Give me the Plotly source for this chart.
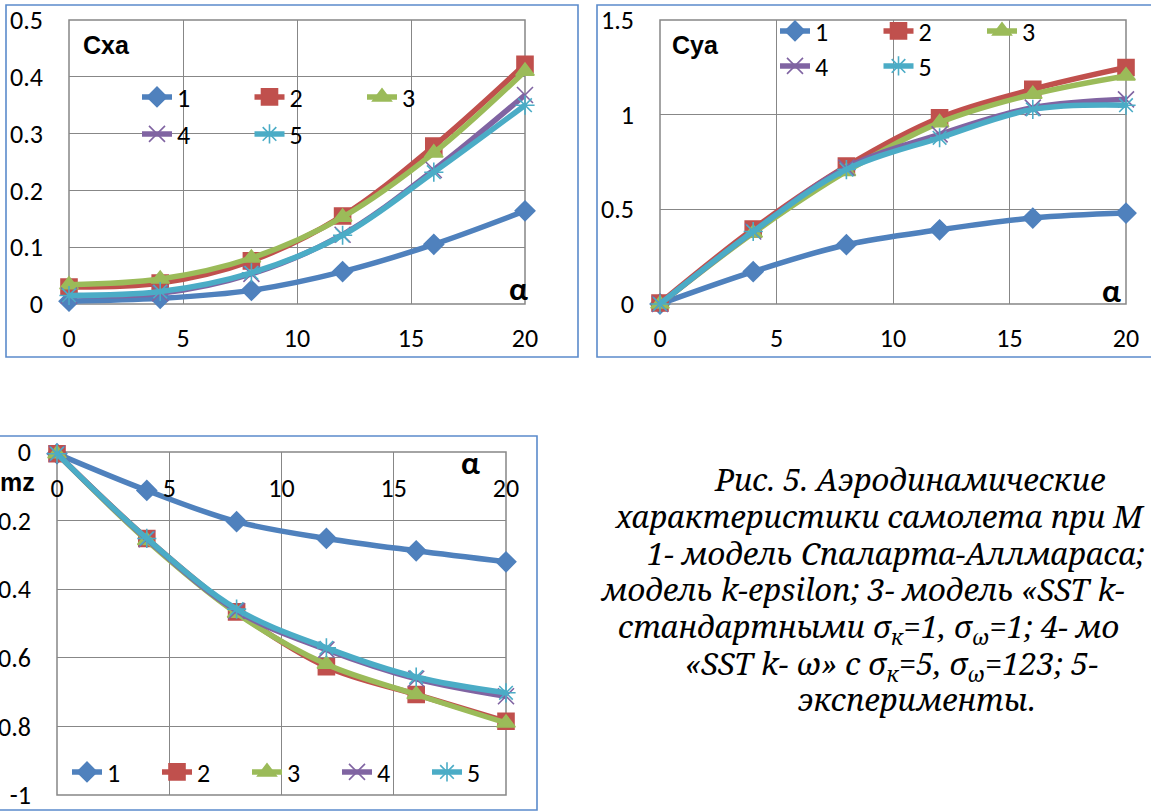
import plotly.graph_objects as go

W, H = 1151, 812

# ---------------- data ----------------
alpha = [0, 4, 8, 12, 16, 20]
series_names = ["1", "2", "3", "4", "5"]

cxa_1 = [0.005, 0.010, 0.024, 0.057, 0.105, 0.164]
cxa_2 = [0.030, 0.037, 0.076, 0.155, 0.278, 0.422]
cxa_3 = [0.034, 0.044, 0.081, 0.153, 0.266, 0.410]
cxa_4 = [0.015, 0.019, 0.053, 0.122, 0.236, 0.368]
cxa_5 = [0.015, 0.022, 0.055, 0.121, 0.232, 0.350]

cya_1 = [0.000, 0.171, 0.313, 0.392, 0.454, 0.480]
cya_2 = [0.005, 0.396, 0.728, 0.984, 1.134, 1.249]
cya_3 = [0.000, 0.375, 0.700, 0.958, 1.108, 1.205]
cya_4 = [0.000, 0.383, 0.720, 0.896, 1.037, 1.081]
cya_5 = [0.000, 0.383, 0.710, 0.878, 1.028, 1.050]

mz_1 = [-0.005, -0.112, -0.203, -0.252, -0.288, -0.320]
mz_2 = [-0.005, -0.252, -0.466, -0.626, -0.707, -0.785]
mz_3 = [-0.005, -0.258, -0.470, -0.619, -0.707, -0.790]
mz_4 = [-0.005, -0.254, -0.463, -0.576, -0.661, -0.712]
mz_5 = [-0.005, -0.252, -0.458, -0.571, -0.656, -0.702]

x_ticks = [0, 5, 10, 15, 20]
cxa_ticks = [0, 0.1, 0.2, 0.3, 0.4, 0.5]
cya_ticks = [0, 0.5, 1, 1.5]
mz_tickvals = [0, -0.2, -0.4, -0.6, -0.8, -1]
mz_ticktext = ["0", "-0.2", "-0.4", "-0.6", "-0.8", "-1"]

caption_lines = [
    "Рис. 5. Аэродинамические",
    "характеристики самолета при М",
    "1- модель Спаларта-Аллмараса;",
    "модель k-epsilon; 3- модель «SST k-",
    "стандартными σ<sub>к</sub>=1, σ<sub>ω</sub>=1; 4- мо",
    "«SST k- ω» с σ<sub>к</sub>=5, σ<sub>ω</sub>=123; 5-",
    "эксперименты.",
]

# ---------------- styles ----------------
colors = ["#4F81BD", "#C0504D", "#9BBB59", "#8064A2", "#4BACC6"]
symbols = ["diamond", "square", "triangle-up", "x-thin-open", "asterisk-open"]
msizes = [15, 16, 16, 16, 16]
FONT = "Calibri, Carlito, Lato, sans-serif"
BOLDFONT = "Arial, Liberation Sans, sans-serif"
SERIF = "Noto Serif, Liberation Serif, serif"
GRID = "#878787"
FRAME = "#5B8BCB"


def fx(p):
    return p / W


def fy(p):
    return 1 - p / H


fig = go.Figure()

panels = [
    ([cxa_1, cxa_2, cxa_3, cxa_4, cxa_5], "x", "y", ["legend"] * 3 + ["legend2"] * 2),
    ([cya_1, cya_2, cya_3, cya_4, cya_5], "x2", "y2", ["legend3"] * 3 + ["legend4"] * 2),
    ([mz_1, mz_2, mz_3, mz_4, mz_5], "x3", "y3", ["legend5"] * 5),
]

for data, xa, ya, legs in panels:
    for i, vals in enumerate(data):
        fig.add_trace(go.Scatter(
            x=alpha, y=vals, name=series_names[i], mode="lines+markers",
            xaxis=xa, yaxis=ya, legend=legs[i], cliponaxis=False,
            line=dict(color=colors[i], width=5.5, shape="spline", smoothing=1),
            marker=dict(symbol=symbols[i], size=msizes[i], color=colors[i],
                        line=dict(color=colors[i], width=1.6)),
        ))

tickfont = dict(family=FONT, size=26, color="black")

common_x = dict(range=[0, 20], tickvals=x_ticks, showgrid=True, gridcolor=GRID,
                gridwidth=1.3, zeroline=False, showline=False, ticks="",
                tickfont=tickfont, automargin=False)
common_y = dict(showgrid=True, gridcolor=GRID, gridwidth=1.3, zeroline=False,
                showline=False, ticks="", tickfont=tickfont, ticklabelstandoff=25,
                automargin=False)

fig.update_layout(
    width=W, height=H,
    margin=dict(l=0, r=0, t=0, b=0, autoexpand=False),
    paper_bgcolor="white", plot_bgcolor="white",
    showlegend=True,
    xaxis=dict(domain=[fx(69), fx(525)], anchor="y", ticklabelstandoff=16, **common_x),
    yaxis=dict(domain=[fy(304), fy(20)], anchor="x", range=[0, 0.5],
               tickvals=cxa_ticks, **common_y),
    xaxis2=dict(domain=[fx(660), fx(1126)], anchor="y2", ticklabelstandoff=16, **common_x),
    yaxis2=dict(domain=[fy(304), fy(20)], anchor="x2", range=[0, 1.5],
                tickvals=cya_ticks, **common_y),
    xaxis3=dict(domain=[fx(57), fx(506)], anchor="free", position=fy(470),
                side="bottom", **common_x),
    yaxis3=dict(domain=[fy(795), fy(452)], anchor="x3", range=[-1, 0],
                tickvals=mz_tickvals, ticktext=mz_ticktext, **common_y),
)

legfont = dict(family=FONT, size=26, color="black")


def leg(xp, yp, ew):
    return dict(x=fx(xp), y=fy(yp), xanchor="left", yanchor="middle",
                orientation="h", entrywidth=ew, entrywidthmode="pixels",
                bgcolor="rgba(0,0,0,0)", font=legfont, itemwidth=30,
                tracegroupgap=0)


fig.update_layout(
    legend=leg(137, 97, 67.5),
    legend2=leg(137, 134, 67.5),
    legend3=leg(775, 31, 58.5),
    legend4=leg(775, 66, 58.5),
    legend5=leg(67, 772, 45),
)

# frames (chart areas) and plot-area borders
shapes = [
    dict(type="rect", xref="paper", yref="paper", x0=fx(6), x1=fx(578),
         y0=fy(357), y1=fy(5), line=dict(color=FRAME, width=1.6)),
    dict(type="rect", xref="paper", yref="paper", x0=fx(597), x1=fx(1165),
         y0=fy(357), y1=fy(5), line=dict(color=FRAME, width=1.6)),
    dict(type="rect", xref="paper", yref="paper", x0=fx(-10), x1=fx(537),
         y0=fy(810), y1=fy(436), line=dict(color=FRAME, width=1.6)),
]
for xa, ya in [("x", "y"), ("x2", "y2"), ("x3", "y3")]:
    shapes.append(dict(type="rect", xref=xa + " domain", yref=ya + " domain",
                       x0=0, x1=1, y0=0, y1=1, layer="below",
                       line=dict(color=GRID, width=1.5)))
fig.update_layout(shapes=shapes)

ann = []
boldfont = dict(family=BOLDFONT, size=25, color="black", weight="bold")
alphafont = dict(family=FONT, size=32, color="black", weight="bold")
ann.append(dict(text="Cxa", x=fx(81), y=fy(45), xref="paper", yref="paper",
                xanchor="left", yanchor="middle", showarrow=False, font=boldfont))
ann.append(dict(text="Cya", x=fx(670), y=fy(45), xref="paper", yref="paper",
                xanchor="left", yanchor="middle", showarrow=False, font=boldfont))
ann.append(dict(text="mz", x=fx(-2), y=fy(482), xref="paper", yref="paper",
                xanchor="left", yanchor="middle", showarrow=False, font=boldfont))
for ax_, ay_ in [(518, 289), (1111, 291), (471, 463)]:
    ann.append(dict(text="α", x=fx(ax_), y=fy(ay_), xref="paper", yref="paper",
                    xanchor="center", yanchor="middle", showarrow=False, font=alphafont))

cap_x = [712, 612, 645, 598, 616, 683, 796]
cap_top = [456, 493, 529.5, 566, 603, 639.5, 676]
capfont = dict(family=SERIF, size=31, color="black", style="italic")
for txt, cx, cy in zip(caption_lines, cap_x, cap_top):
    ann.append(dict(text=txt, x=fx(cx), y=fy(cy), xref="paper",
                    yref="paper", xanchor="left", yanchor="top", showarrow=False,
                    font=capfont, align="left"))
fig.update_layout(annotations=ann)

fig.write_html("out.html")
